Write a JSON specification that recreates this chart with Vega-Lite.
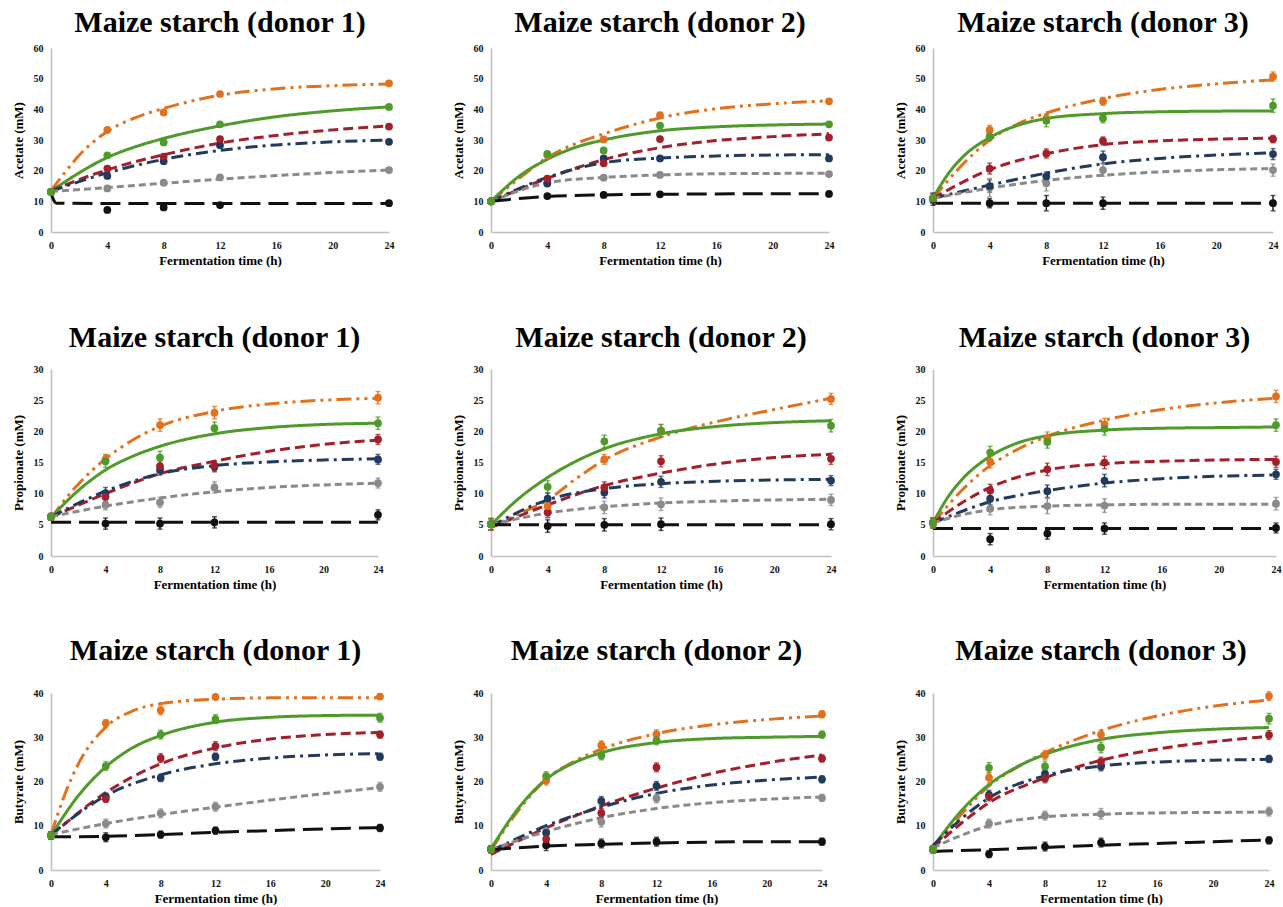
{
"$schema": "https://vega.github.io/schema/vega-lite/v6.json",
"background": "white",
"padding": {"left": 12, "top": 8, "right": 2, "bottom": 0},
"config": {
 "view": {"stroke": null},
 "title": {"font": "Liberation Serif", "fontSize": 30, "fontWeight": "bold", "color": "#000000", "anchor": "middle", "frame": "group", "baseline": "alphabetic"},
 "axis": {"labelFont": "Liberation Serif", "labelFontSize": 10, "labelFontWeight": "bold", "labelColor": "#111111", "titleFont": "Liberation Serif", "titleFontSize": 13, "titleFontWeight": "bold", "titleColor": "#000000", "domainColor": "#C0C0C0", "domainWidth": 1.6, "ticks": false, "grid": false, "labelPadding": 8},
 "axisX": {"titlePadding": 4, "labelFlush": false},
 "axisY": {"titlePadding": 8},
 "line": {"strokeWidth": 3}
},
"datasets": {
"curves": [
{"p":"A1","s":"s1","t":0,"v":13.5},{"p":"A1","s":"s1","t":1,"v":19.5},{"p":"A1","s":"s1","t":2,"v":25},{"p":"A1","s":"s1","t":4,"v":32.8},{"p":"A1","s":"s1","t":6,"v":37.3},{"p":"A1","s":"s1","t":8,"v":40.3},{"p":"A1","s":"s1","t":12,"v":44.6},{"p":"A1","s":"s1","t":16,"v":46.7},{"p":"A1","s":"s1","t":20,"v":47.7},{"p":"A1","s":"s1","t":24,"v":48.3},
{"p":"A1","s":"s2","t":0,"v":13.3},{"p":"A1","s":"s2","t":2,"v":19.3},{"p":"A1","s":"s2","t":4,"v":24.3},{"p":"A1","s":"s2","t":6,"v":27.8},{"p":"A1","s":"s2","t":8,"v":30.5},{"p":"A1","s":"s2","t":12,"v":34.6},{"p":"A1","s":"s2","t":16,"v":37.6},{"p":"A1","s":"s2","t":20,"v":39.5},{"p":"A1","s":"s2","t":24,"v":40.8},
{"p":"A1","s":"s3","t":0,"v":13.5},{"p":"A1","s":"s3","t":4,"v":20.3},{"p":"A1","s":"s3","t":8,"v":25.2},{"p":"A1","s":"s3","t":12,"v":29},{"p":"A1","s":"s3","t":16,"v":31.5},{"p":"A1","s":"s3","t":20,"v":33.3},{"p":"A1","s":"s3","t":24,"v":34.6},
{"p":"A1","s":"s4","t":0,"v":13.3},{"p":"A1","s":"s4","t":4,"v":19.3},{"p":"A1","s":"s4","t":8,"v":23.7},{"p":"A1","s":"s4","t":12,"v":26.6},{"p":"A1","s":"s4","t":16,"v":28.4},{"p":"A1","s":"s4","t":20,"v":29.4},{"p":"A1","s":"s4","t":24,"v":30},
{"p":"A1","s":"s5","t":0,"v":13.2},{"p":"A1","s":"s5","t":4,"v":14.5},{"p":"A1","s":"s5","t":8,"v":15.9},{"p":"A1","s":"s5","t":12,"v":17.2},{"p":"A1","s":"s5","t":16,"v":18.4},{"p":"A1","s":"s5","t":20,"v":19.4},{"p":"A1","s":"s5","t":24,"v":20.2},
{"p":"A1","s":"s6","t":0,"v":12.8},{"p":"A1","s":"s6","t":0.15,"v":10.8},{"p":"A1","s":"s6","t":0.4,"v":9.4},{"p":"A1","s":"s6","t":4,"v":9.3},{"p":"A1","s":"s6","t":12,"v":9.3},{"p":"A1","s":"s6","t":24,"v":9.3},
{"p":"A2","s":"s1","t":0,"v":10},{"p":"A2","s":"s1","t":2,"v":17.5},{"p":"A2","s":"s1","t":4,"v":24.3},{"p":"A2","s":"s1","t":6,"v":28.8},{"p":"A2","s":"s1","t":8,"v":32},{"p":"A2","s":"s1","t":12,"v":37.2},{"p":"A2","s":"s1","t":16,"v":40.2},{"p":"A2","s":"s1","t":20,"v":41.8},{"p":"A2","s":"s1","t":24,"v":42.8},
{"p":"A2","s":"s2","t":0,"v":10},{"p":"A2","s":"s2","t":2,"v":18.2},{"p":"A2","s":"s2","t":4,"v":23.7},{"p":"A2","s":"s2","t":6,"v":27.6},{"p":"A2","s":"s2","t":8,"v":30},{"p":"A2","s":"s2","t":12,"v":33},{"p":"A2","s":"s2","t":16,"v":34.3},{"p":"A2","s":"s2","t":20,"v":34.9},{"p":"A2","s":"s2","t":24,"v":35.2},
{"p":"A2","s":"s3","t":0,"v":10},{"p":"A2","s":"s3","t":4,"v":17.5},{"p":"A2","s":"s3","t":8,"v":23.6},{"p":"A2","s":"s3","t":12,"v":27.5},{"p":"A2","s":"s3","t":16,"v":29.8},{"p":"A2","s":"s3","t":20,"v":31.1},{"p":"A2","s":"s3","t":24,"v":32},
{"p":"A2","s":"s4","t":0,"v":10},{"p":"A2","s":"s4","t":4,"v":17.8},{"p":"A2","s":"s4","t":8,"v":22.6},{"p":"A2","s":"s4","t":12,"v":24.1},{"p":"A2","s":"s4","t":16,"v":24.8},{"p":"A2","s":"s4","t":20,"v":25.1},{"p":"A2","s":"s4","t":24,"v":25.2},
{"p":"A2","s":"s5","t":0,"v":10},{"p":"A2","s":"s5","t":4,"v":16},{"p":"A2","s":"s5","t":8,"v":17.8},{"p":"A2","s":"s5","t":12,"v":18.6},{"p":"A2","s":"s5","t":16,"v":19},{"p":"A2","s":"s5","t":20,"v":19.1},{"p":"A2","s":"s5","t":24,"v":19.2},
{"p":"A2","s":"s6","t":0,"v":10},{"p":"A2","s":"s6","t":4,"v":11.6},{"p":"A2","s":"s6","t":8,"v":12.1},{"p":"A2","s":"s6","t":12,"v":12.3},{"p":"A2","s":"s6","t":16,"v":12.4},{"p":"A2","s":"s6","t":20,"v":12.5},{"p":"A2","s":"s6","t":24,"v":12.5},
{"p":"A3","s":"s1","t":0,"v":11},{"p":"A3","s":"s1","t":1,"v":16.5},{"p":"A3","s":"s1","t":2,"v":21.6},{"p":"A3","s":"s1","t":4,"v":30},{"p":"A3","s":"s1","t":6,"v":35.3},{"p":"A3","s":"s1","t":8,"v":38.8},{"p":"A3","s":"s1","t":12,"v":43.5},{"p":"A3","s":"s1","t":16,"v":46.5},{"p":"A3","s":"s1","t":20,"v":48.3},{"p":"A3","s":"s1","t":24,"v":49.6},
{"p":"A3","s":"s2","t":0,"v":11},{"p":"A3","s":"s2","t":1,"v":18.5},{"p":"A3","s":"s2","t":2,"v":24},{"p":"A3","s":"s2","t":4,"v":30.8},{"p":"A3","s":"s2","t":6,"v":34.8},{"p":"A3","s":"s2","t":8,"v":37},{"p":"A3","s":"s2","t":12,"v":38.6},{"p":"A3","s":"s2","t":16,"v":39.2},{"p":"A3","s":"s2","t":20,"v":39.4},{"p":"A3","s":"s2","t":24,"v":39.5},
{"p":"A3","s":"s3","t":0,"v":11},{"p":"A3","s":"s3","t":4,"v":20.3},{"p":"A3","s":"s3","t":8,"v":25.5},{"p":"A3","s":"s3","t":12,"v":28.5},{"p":"A3","s":"s3","t":16,"v":29.7},{"p":"A3","s":"s3","t":20,"v":30.3},{"p":"A3","s":"s3","t":24,"v":30.6},
{"p":"A3","s":"s4","t":0,"v":11},{"p":"A3","s":"s4","t":4,"v":15.3},{"p":"A3","s":"s4","t":8,"v":19.2},{"p":"A3","s":"s4","t":12,"v":22.2},{"p":"A3","s":"s4","t":16,"v":24},{"p":"A3","s":"s4","t":20,"v":25.1},{"p":"A3","s":"s4","t":24,"v":25.8},
{"p":"A3","s":"s5","t":0,"v":11},{"p":"A3","s":"s5","t":4,"v":14.3},{"p":"A3","s":"s5","t":8,"v":16.8},{"p":"A3","s":"s5","t":12,"v":18.5},{"p":"A3","s":"s5","t":16,"v":19.6},{"p":"A3","s":"s5","t":20,"v":20.3},{"p":"A3","s":"s5","t":24,"v":20.7},
{"p":"A3","s":"s6","t":0,"v":9.4},{"p":"A3","s":"s6","t":12,"v":9.4},{"p":"A3","s":"s6","t":24,"v":9.4},
{"p":"P1","s":"s1","t":0,"v":6},{"p":"P1","s":"s1","t":1,"v":9},{"p":"P1","s":"s1","t":2,"v":11.5},{"p":"P1","s":"s1","t":4,"v":15.6},{"p":"P1","s":"s1","t":6,"v":18.6},{"p":"P1","s":"s1","t":8,"v":20.8},{"p":"P1","s":"s1","t":12,"v":23.2},{"p":"P1","s":"s1","t":16,"v":24.4},{"p":"P1","s":"s1","t":20,"v":25},{"p":"P1","s":"s1","t":24,"v":25.3},
{"p":"P1","s":"s2","t":0,"v":6.2},{"p":"P1","s":"s2","t":2,"v":10.5},{"p":"P1","s":"s2","t":4,"v":13.8},{"p":"P1","s":"s2","t":6,"v":16},{"p":"P1","s":"s2","t":8,"v":17.6},{"p":"P1","s":"s2","t":12,"v":19.6},{"p":"P1","s":"s2","t":16,"v":20.6},{"p":"P1","s":"s2","t":20,"v":21.1},{"p":"P1","s":"s2","t":24,"v":21.3},
{"p":"P1","s":"s3","t":0,"v":6.2},{"p":"P1","s":"s3","t":4,"v":10},{"p":"P1","s":"s3","t":8,"v":13.2},{"p":"P1","s":"s3","t":12,"v":15.2},{"p":"P1","s":"s3","t":16,"v":16.8},{"p":"P1","s":"s3","t":20,"v":17.9},{"p":"P1","s":"s3","t":24,"v":18.6},
{"p":"P1","s":"s4","t":0,"v":6.3},{"p":"P1","s":"s4","t":4,"v":10.4},{"p":"P1","s":"s4","t":8,"v":13.2},{"p":"P1","s":"s4","t":12,"v":14.5},{"p":"P1","s":"s4","t":16,"v":15.1},{"p":"P1","s":"s4","t":20,"v":15.4},{"p":"P1","s":"s4","t":24,"v":15.6},
{"p":"P1","s":"s5","t":0,"v":6.3},{"p":"P1","s":"s5","t":4,"v":8},{"p":"P1","s":"s5","t":8,"v":9.3},{"p":"P1","s":"s5","t":12,"v":10.3},{"p":"P1","s":"s5","t":16,"v":11},{"p":"P1","s":"s5","t":20,"v":11.4},{"p":"P1","s":"s5","t":24,"v":11.7},
{"p":"P1","s":"s6","t":0,"v":5.4},{"p":"P1","s":"s6","t":12,"v":5.4},{"p":"P1","s":"s6","t":24,"v":5.4},
{"p":"P2","s":"s1","t":0,"v":4.6},{"p":"P2","s":"s1","t":2,"v":6.8},{"p":"P2","s":"s1","t":4,"v":9},{"p":"P2","s":"s1","t":6,"v":12.4},{"p":"P2","s":"s1","t":8,"v":15.4},{"p":"P2","s":"s1","t":12,"v":19.1},{"p":"P2","s":"s1","t":16,"v":21.6},{"p":"P2","s":"s1","t":20,"v":23.5},{"p":"P2","s":"s1","t":24,"v":25.3},
{"p":"P2","s":"s2","t":0,"v":5},{"p":"P2","s":"s2","t":2,"v":9.3},{"p":"P2","s":"s2","t":4,"v":12.6},{"p":"P2","s":"s2","t":6,"v":15.2},{"p":"P2","s":"s2","t":8,"v":17.2},{"p":"P2","s":"s2","t":12,"v":19.6},{"p":"P2","s":"s2","t":16,"v":20.8},{"p":"P2","s":"s2","t":20,"v":21.4},{"p":"P2","s":"s2","t":24,"v":21.7},
{"p":"P2","s":"s3","t":0,"v":4.6},{"p":"P2","s":"s3","t":4,"v":8.2},{"p":"P2","s":"s3","t":8,"v":11.3},{"p":"P2","s":"s3","t":12,"v":13.3},{"p":"P2","s":"s3","t":16,"v":14.8},{"p":"P2","s":"s3","t":20,"v":15.8},{"p":"P2","s":"s3","t":24,"v":16.3},
{"p":"P2","s":"s4","t":0,"v":4.8},{"p":"P2","s":"s4","t":4,"v":9},{"p":"P2","s":"s4","t":8,"v":10.8},{"p":"P2","s":"s4","t":12,"v":11.6},{"p":"P2","s":"s4","t":16,"v":12},{"p":"P2","s":"s4","t":20,"v":12.2},{"p":"P2","s":"s4","t":24,"v":12.3},
{"p":"P2","s":"s5","t":0,"v":5},{"p":"P2","s":"s5","t":4,"v":6.9},{"p":"P2","s":"s5","t":8,"v":7.9},{"p":"P2","s":"s5","t":12,"v":8.5},{"p":"P2","s":"s5","t":16,"v":8.8},{"p":"P2","s":"s5","t":20,"v":9},{"p":"P2","s":"s5","t":24,"v":9.1},
{"p":"P2","s":"s6","t":0,"v":5},{"p":"P2","s":"s6","t":12,"v":5},{"p":"P2","s":"s6","t":24,"v":5},
{"p":"P3","s":"s1","t":0,"v":5.2},{"p":"P3","s":"s1","t":1,"v":8},{"p":"P3","s":"s1","t":2,"v":10.5},{"p":"P3","s":"s1","t":4,"v":14.5},{"p":"P3","s":"s1","t":6,"v":17.2},{"p":"P3","s":"s1","t":8,"v":19.2},{"p":"P3","s":"s1","t":12,"v":21.8},{"p":"P3","s":"s1","t":16,"v":23.5},{"p":"P3","s":"s1","t":20,"v":24.6},{"p":"P3","s":"s1","t":24,"v":25.3},
{"p":"P3","s":"s2","t":0,"v":5.3},{"p":"P3","s":"s2","t":1,"v":9.3},{"p":"P3","s":"s2","t":2,"v":12.2},{"p":"P3","s":"s2","t":4,"v":16},{"p":"P3","s":"s2","t":6,"v":18.2},{"p":"P3","s":"s2","t":8,"v":19.3},{"p":"P3","s":"s2","t":12,"v":20.2},{"p":"P3","s":"s2","t":16,"v":20.5},{"p":"P3","s":"s2","t":20,"v":20.6},{"p":"P3","s":"s2","t":24,"v":20.7},
{"p":"P3","s":"s3","t":0,"v":5.3},{"p":"P3","s":"s3","t":2,"v":8.5},{"p":"P3","s":"s3","t":4,"v":11},{"p":"P3","s":"s3","t":8,"v":13.8},{"p":"P3","s":"s3","t":12,"v":14.8},{"p":"P3","s":"s3","t":16,"v":15.2},{"p":"P3","s":"s3","t":20,"v":15.4},{"p":"P3","s":"s3","t":24,"v":15.5},
{"p":"P3","s":"s4","t":0,"v":5.3},{"p":"P3","s":"s4","t":4,"v":8.7},{"p":"P3","s":"s4","t":8,"v":10.5},{"p":"P3","s":"s4","t":12,"v":11.7},{"p":"P3","s":"s4","t":16,"v":12.4},{"p":"P3","s":"s4","t":20,"v":12.8},{"p":"P3","s":"s4","t":24,"v":13},
{"p":"P3","s":"s5","t":0,"v":5.3},{"p":"P3","s":"s5","t":2,"v":6.6},{"p":"P3","s":"s5","t":4,"v":7.4},{"p":"P3","s":"s5","t":8,"v":8},{"p":"P3","s":"s5","t":12,"v":8.2},{"p":"P3","s":"s5","t":16,"v":8.3},{"p":"P3","s":"s5","t":20,"v":8.3},{"p":"P3","s":"s5","t":24,"v":8.3},
{"p":"P3","s":"s6","t":0,"v":4.4},{"p":"P3","s":"s6","t":12,"v":4.4},{"p":"P3","s":"s6","t":24,"v":4.4},
{"p":"B1","s":"s1","t":0,"v":8},{"p":"B1","s":"s1","t":1,"v":17},{"p":"B1","s":"s1","t":2,"v":24},{"p":"B1","s":"s1","t":4,"v":32.3},{"p":"B1","s":"s1","t":6,"v":36},{"p":"B1","s":"s1","t":8,"v":37.6},{"p":"B1","s":"s1","t":12,"v":38.6},{"p":"B1","s":"s1","t":16,"v":38.9},{"p":"B1","s":"s1","t":20,"v":38.9},{"p":"B1","s":"s1","t":24,"v":38.9},
{"p":"B1","s":"s2","t":0,"v":7.8},{"p":"B1","s":"s2","t":2,"v":16.8},{"p":"B1","s":"s2","t":4,"v":23.3},{"p":"B1","s":"s2","t":6,"v":27.7},{"p":"B1","s":"s2","t":8,"v":30.4},{"p":"B1","s":"s2","t":12,"v":33.4},{"p":"B1","s":"s2","t":16,"v":34.5},{"p":"B1","s":"s2","t":20,"v":34.9},{"p":"B1","s":"s2","t":24,"v":35},
{"p":"B1","s":"s3","t":0,"v":7.8},{"p":"B1","s":"s3","t":4,"v":17.5},{"p":"B1","s":"s3","t":8,"v":24},{"p":"B1","s":"s3","t":12,"v":27.6},{"p":"B1","s":"s3","t":16,"v":29.6},{"p":"B1","s":"s3","t":20,"v":30.6},{"p":"B1","s":"s3","t":24,"v":31.1},
{"p":"B1","s":"s4","t":0,"v":8},{"p":"B1","s":"s4","t":4,"v":16.8},{"p":"B1","s":"s4","t":8,"v":21.5},{"p":"B1","s":"s4","t":12,"v":24},{"p":"B1","s":"s4","t":16,"v":25.3},{"p":"B1","s":"s4","t":20,"v":26},{"p":"B1","s":"s4","t":24,"v":26.3},
{"p":"B1","s":"s5","t":0,"v":8},{"p":"B1","s":"s5","t":4,"v":10.5},{"p":"B1","s":"s5","t":8,"v":12.5},{"p":"B1","s":"s5","t":12,"v":14.2},{"p":"B1","s":"s5","t":16,"v":15.8},{"p":"B1","s":"s5","t":20,"v":17.3},{"p":"B1","s":"s5","t":24,"v":18.6},
{"p":"B1","s":"s6","t":0,"v":7.5},{"p":"B1","s":"s6","t":4,"v":7.6},{"p":"B1","s":"s6","t":8,"v":8},{"p":"B1","s":"s6","t":12,"v":8.5},{"p":"B1","s":"s6","t":16,"v":8.9},{"p":"B1","s":"s6","t":20,"v":9.3},{"p":"B1","s":"s6","t":24,"v":9.6},
{"p":"B2","s":"s1","t":0,"v":4.5},{"p":"B2","s":"s1","t":2,"v":13.5},{"p":"B2","s":"s1","t":4,"v":20.5},{"p":"B2","s":"s1","t":6,"v":24.5},{"p":"B2","s":"s1","t":8,"v":27.3},{"p":"B2","s":"s1","t":12,"v":30.8},{"p":"B2","s":"s1","t":16,"v":32.8},{"p":"B2","s":"s1","t":20,"v":34},{"p":"B2","s":"s1","t":24,"v":34.8},
{"p":"B2","s":"s2","t":0,"v":4.8},{"p":"B2","s":"s2","t":2,"v":14},{"p":"B2","s":"s2","t":4,"v":20.5},{"p":"B2","s":"s2","t":6,"v":24.2},{"p":"B2","s":"s2","t":8,"v":26.5},{"p":"B2","s":"s2","t":12,"v":28.8},{"p":"B2","s":"s2","t":16,"v":29.7},{"p":"B2","s":"s2","t":20,"v":30},{"p":"B2","s":"s2","t":24,"v":30.2},
{"p":"B2","s":"s3","t":0,"v":3.5},{"p":"B2","s":"s3","t":4,"v":9.5},{"p":"B2","s":"s3","t":8,"v":14.5},{"p":"B2","s":"s3","t":12,"v":18.5},{"p":"B2","s":"s3","t":16,"v":21.8},{"p":"B2","s":"s3","t":20,"v":24.2},{"p":"B2","s":"s3","t":24,"v":26},
{"p":"B2","s":"s4","t":0,"v":4.3},{"p":"B2","s":"s4","t":4,"v":10},{"p":"B2","s":"s4","t":8,"v":14.2},{"p":"B2","s":"s4","t":12,"v":17.3},{"p":"B2","s":"s4","t":16,"v":19.2},{"p":"B2","s":"s4","t":20,"v":20.3},{"p":"B2","s":"s4","t":24,"v":21},
{"p":"B2","s":"s5","t":0,"v":4.6},{"p":"B2","s":"s5","t":4,"v":8.7},{"p":"B2","s":"s5","t":8,"v":11.8},{"p":"B2","s":"s5","t":12,"v":13.9},{"p":"B2","s":"s5","t":16,"v":15.2},{"p":"B2","s":"s5","t":20,"v":16},{"p":"B2","s":"s5","t":24,"v":16.5},
{"p":"B2","s":"s6","t":0,"v":4.6},{"p":"B2","s":"s6","t":4,"v":5.4},{"p":"B2","s":"s6","t":8,"v":5.8},{"p":"B2","s":"s6","t":12,"v":6.1},{"p":"B2","s":"s6","t":16,"v":6.3},{"p":"B2","s":"s6","t":20,"v":6.4},{"p":"B2","s":"s6","t":24,"v":6.4},
{"p":"B3","s":"s1","t":0,"v":5},{"p":"B3","s":"s1","t":2,"v":12.5},{"p":"B3","s":"s1","t":4,"v":19},{"p":"B3","s":"s1","t":6,"v":23.2},{"p":"B3","s":"s1","t":8,"v":26.5},{"p":"B3","s":"s1","t":12,"v":31.5},{"p":"B3","s":"s1","t":16,"v":34.8},{"p":"B3","s":"s1","t":20,"v":37},{"p":"B3","s":"s1","t":24,"v":38.4},
{"p":"B3","s":"s2","t":0,"v":5.2},{"p":"B3","s":"s2","t":2,"v":13.3},{"p":"B3","s":"s2","t":4,"v":19.3},{"p":"B3","s":"s2","t":6,"v":23.3},{"p":"B3","s":"s2","t":8,"v":26.1},{"p":"B3","s":"s2","t":12,"v":29.5},{"p":"B3","s":"s2","t":16,"v":31},{"p":"B3","s":"s2","t":20,"v":31.8},{"p":"B3","s":"s2","t":24,"v":32.2},
{"p":"B3","s":"s3","t":0,"v":5},{"p":"B3","s":"s3","t":2,"v":10.5},{"p":"B3","s":"s3","t":4,"v":15.2},{"p":"B3","s":"s3","t":8,"v":20.8},{"p":"B3","s":"s3","t":12,"v":24.8},{"p":"B3","s":"s3","t":16,"v":27.3},{"p":"B3","s":"s3","t":20,"v":29},{"p":"B3","s":"s3","t":24,"v":30.2},
{"p":"B3","s":"s4","t":0,"v":5.5},{"p":"B3","s":"s4","t":2,"v":11.5},{"p":"B3","s":"s4","t":4,"v":16.3},{"p":"B3","s":"s4","t":8,"v":21.3},{"p":"B3","s":"s4","t":12,"v":23.5},{"p":"B3","s":"s4","t":16,"v":24.4},{"p":"B3","s":"s4","t":20,"v":24.8},{"p":"B3","s":"s4","t":24,"v":25},
{"p":"B3","s":"s5","t":0,"v":5},{"p":"B3","s":"s5","t":2,"v":7.8},{"p":"B3","s":"s5","t":4,"v":10},{"p":"B3","s":"s5","t":8,"v":12},{"p":"B3","s":"s5","t":12,"v":12.6},{"p":"B3","s":"s5","t":16,"v":12.9},{"p":"B3","s":"s5","t":20,"v":13},{"p":"B3","s":"s5","t":24,"v":13.1},
{"p":"B3","s":"s6","t":0,"v":4.2},{"p":"B3","s":"s6","t":4,"v":4.6},{"p":"B3","s":"s6","t":8,"v":5.1},{"p":"B3","s":"s6","t":12,"v":5.6},{"p":"B3","s":"s6","t":16,"v":6},{"p":"B3","s":"s6","t":20,"v":6.4},{"p":"B3","s":"s6","t":24,"v":6.8}
],
"points": [
{"p":"A1","s":"s6","t":0,"v":13.1,"e":0.6},{"p":"A1","s":"s6","t":4,"v":7.2,"e":0.7},{"p":"A1","s":"s6","t":8,"v":8,"e":0.7},{"p":"A1","s":"s6","t":12,"v":8.8,"e":0.7},{"p":"A1","s":"s6","t":24,"v":9.4,"e":0.7},
{"p":"A1","s":"s5","t":0,"v":13.1,"e":0.6},{"p":"A1","s":"s5","t":4,"v":14.2,"e":0.7},{"p":"A1","s":"s5","t":8,"v":16.1,"e":0.7},{"p":"A1","s":"s5","t":12,"v":17.8,"e":0.7},{"p":"A1","s":"s5","t":24,"v":20.2,"e":0.7},
{"p":"A1","s":"s4","t":0,"v":13.1,"e":0.6},{"p":"A1","s":"s4","t":4,"v":18.3,"e":0.7},{"p":"A1","s":"s4","t":8,"v":23.1,"e":0.7},{"p":"A1","s":"s4","t":12,"v":28.3,"e":0.7},{"p":"A1","s":"s4","t":24,"v":29.4,"e":0.7},
{"p":"A1","s":"s3","t":0,"v":13.1,"e":0.6},{"p":"A1","s":"s3","t":4,"v":20.7,"e":0.7},{"p":"A1","s":"s3","t":8,"v":24.6,"e":0.7},{"p":"A1","s":"s3","t":12,"v":30.3,"e":0.7},{"p":"A1","s":"s3","t":24,"v":34.4,"e":0.7},
{"p":"A1","s":"s1","t":0,"v":13.1,"e":0.6},{"p":"A1","s":"s1","t":4,"v":33.3,"e":0.7},{"p":"A1","s":"s1","t":8,"v":39,"e":0.7},{"p":"A1","s":"s1","t":12,"v":45,"e":0.7},{"p":"A1","s":"s1","t":24,"v":48.5,"e":0.7},
{"p":"A1","s":"s2","t":0,"v":13.1,"e":0.6},{"p":"A1","s":"s2","t":4,"v":25,"e":0.7},{"p":"A1","s":"s2","t":8,"v":29.2,"e":0.7},{"p":"A1","s":"s2","t":12,"v":35.1,"e":0.7},{"p":"A1","s":"s2","t":24,"v":40.8,"e":0.7},
{"p":"A2","s":"s6","t":0,"v":10,"e":0.6},{"p":"A2","s":"s6","t":4,"v":11.7,"e":0.6},{"p":"A2","s":"s6","t":8,"v":12.1,"e":0.6},{"p":"A2","s":"s6","t":12,"v":12.3,"e":0.6},{"p":"A2","s":"s6","t":24,"v":12.4,"e":0.6},
{"p":"A2","s":"s5","t":0,"v":10,"e":0.6},{"p":"A2","s":"s5","t":4,"v":16,"e":0.6},{"p":"A2","s":"s5","t":8,"v":17.7,"e":0.6},{"p":"A2","s":"s5","t":12,"v":18.6,"e":0.6},{"p":"A2","s":"s5","t":24,"v":18.9,"e":0.6},
{"p":"A2","s":"s4","t":0,"v":10,"e":0.6},{"p":"A2","s":"s4","t":4,"v":15.8,"e":0.6},{"p":"A2","s":"s4","t":8,"v":24,"e":0.6},{"p":"A2","s":"s4","t":12,"v":24,"e":0.6},{"p":"A2","s":"s4","t":24,"v":24,"e":0.6},
{"p":"A2","s":"s3","t":0,"v":10,"e":0.6},{"p":"A2","s":"s3","t":4,"v":17.4,"e":0.6},{"p":"A2","s":"s3","t":8,"v":22.4,"e":0.6},{"p":"A2","s":"s3","t":12,"v":30.3,"e":0.6},{"p":"A2","s":"s3","t":24,"v":30.8,"e":0.6},
{"p":"A2","s":"s1","t":0,"v":10,"e":0.6},{"p":"A2","s":"s1","t":4,"v":25,"e":0.6},{"p":"A2","s":"s1","t":8,"v":30.2,"e":0.6},{"p":"A2","s":"s1","t":12,"v":38.1,"e":0.6},{"p":"A2","s":"s1","t":24,"v":42.6,"e":0.6},
{"p":"A2","s":"s2","t":0,"v":10,"e":0.6},{"p":"A2","s":"s2","t":4,"v":25.5,"e":0.6},{"p":"A2","s":"s2","t":8,"v":26.6,"e":0.6},{"p":"A2","s":"s2","t":12,"v":34.7,"e":0.6},{"p":"A2","s":"s2","t":24,"v":35.1,"e":0.6},
{"p":"A3","s":"s6","t":0,"v":10.7,"e":2},{"p":"A3","s":"s6","t":4,"v":9.4,"e":1.5},{"p":"A3","s":"s6","t":8,"v":9.4,"e":2.5},{"p":"A3","s":"s6","t":12,"v":9.4,"e":2},{"p":"A3","s":"s6","t":24,"v":9.4,"e":2.5},
{"p":"A3","s":"s5","t":0,"v":11,"e":1.5},{"p":"A3","s":"s5","t":4,"v":14.5,"e":3},{"p":"A3","s":"s5","t":8,"v":15.9,"e":2.5},{"p":"A3","s":"s5","t":12,"v":20.2,"e":2},{"p":"A3","s":"s5","t":24,"v":20.2,"e":2},
{"p":"A3","s":"s4","t":0,"v":11,"e":1.5},{"p":"A3","s":"s4","t":4,"v":15,"e":2},{"p":"A3","s":"s4","t":8,"v":18.1,"e":1.5},{"p":"A3","s":"s4","t":12,"v":24.4,"e":2},{"p":"A3","s":"s4","t":24,"v":25.4,"e":1.8},
{"p":"A3","s":"s3","t":0,"v":11,"e":1.5},{"p":"A3","s":"s3","t":4,"v":20.7,"e":1.8},{"p":"A3","s":"s3","t":8,"v":25.6,"e":1.5},{"p":"A3","s":"s3","t":12,"v":29.7,"e":1.3},{"p":"A3","s":"s3","t":24,"v":30.3,"e":1.2},
{"p":"A3","s":"s1","t":0,"v":11,"e":1.5},{"p":"A3","s":"s1","t":4,"v":33.3,"e":1.5},{"p":"A3","s":"s1","t":8,"v":37,"e":1.5},{"p":"A3","s":"s1","t":12,"v":42.6,"e":1.3},{"p":"A3","s":"s1","t":24,"v":50.7,"e":1.5},
{"p":"A3","s":"s2","t":0,"v":11,"e":1.5},{"p":"A3","s":"s2","t":4,"v":31.2,"e":1.5},{"p":"A3","s":"s2","t":8,"v":36.3,"e":2},{"p":"A3","s":"s2","t":12,"v":37.1,"e":1.5},{"p":"A3","s":"s2","t":24,"v":41.2,"e":2.2},
{"p":"P1","s":"s6","t":0,"v":6.3,"e":0.5},{"p":"P1","s":"s6","t":4,"v":5.2,"e":0.9},{"p":"P1","s":"s6","t":8,"v":5.2,"e":0.9},{"p":"P1","s":"s6","t":12,"v":5.4,"e":0.9},{"p":"P1","s":"s6","t":24,"v":6.6,"e":0.8},
{"p":"P1","s":"s5","t":0,"v":6.3,"e":0.5},{"p":"P1","s":"s5","t":4,"v":8.2,"e":0.8},{"p":"P1","s":"s5","t":8,"v":8.6,"e":0.8},{"p":"P1","s":"s5","t":12,"v":11,"e":0.9},{"p":"P1","s":"s5","t":24,"v":11.7,"e":0.8},
{"p":"P1","s":"s4","t":0,"v":6.3,"e":0.5},{"p":"P1","s":"s4","t":4,"v":10.1,"e":0.9},{"p":"P1","s":"s4","t":8,"v":13.8,"e":0.8},{"p":"P1","s":"s4","t":12,"v":14.3,"e":0.8},{"p":"P1","s":"s4","t":24,"v":15.5,"e":0.8},
{"p":"P1","s":"s3","t":0,"v":6.3,"e":0.5},{"p":"P1","s":"s3","t":4,"v":9.5,"e":0.8},{"p":"P1","s":"s3","t":8,"v":14.4,"e":0.8},{"p":"P1","s":"s3","t":12,"v":14.5,"e":0.8},{"p":"P1","s":"s3","t":24,"v":18.7,"e":0.8},
{"p":"P1","s":"s1","t":0,"v":6.3,"e":0.5},{"p":"P1","s":"s1","t":4,"v":15.5,"e":0.8},{"p":"P1","s":"s1","t":8,"v":21,"e":1},{"p":"P1","s":"s1","t":12,"v":23,"e":1},{"p":"P1","s":"s1","t":24,"v":25.4,"e":1},
{"p":"P1","s":"s2","t":0,"v":6.3,"e":0.5},{"p":"P1","s":"s2","t":4,"v":15.2,"e":1},{"p":"P1","s":"s2","t":8,"v":15.8,"e":1},{"p":"P1","s":"s2","t":12,"v":20.5,"e":1},{"p":"P1","s":"s2","t":24,"v":21.3,"e":1},
{"p":"P2","s":"s6","t":0,"v":5.1,"e":0.9},{"p":"P2","s":"s6","t":4,"v":4.8,"e":1},{"p":"P2","s":"s6","t":8,"v":5,"e":1},{"p":"P2","s":"s6","t":12,"v":5.1,"e":1},{"p":"P2","s":"s6","t":24,"v":5.1,"e":0.9},
{"p":"P2","s":"s5","t":0,"v":5.1,"e":0.9},{"p":"P2","s":"s5","t":4,"v":7,"e":0.9},{"p":"P2","s":"s5","t":8,"v":7.8,"e":1},{"p":"P2","s":"s5","t":12,"v":8.3,"e":1},{"p":"P2","s":"s5","t":24,"v":9,"e":0.9},
{"p":"P2","s":"s4","t":0,"v":5.1,"e":0.9},{"p":"P2","s":"s4","t":4,"v":9.2,"e":0.9},{"p":"P2","s":"s4","t":8,"v":10.2,"e":0.9},{"p":"P2","s":"s4","t":12,"v":11.9,"e":0.9},{"p":"P2","s":"s4","t":24,"v":12.1,"e":0.8},
{"p":"P2","s":"s3","t":0,"v":5.1,"e":0.9},{"p":"P2","s":"s3","t":4,"v":7,"e":0.8},{"p":"P2","s":"s3","t":8,"v":11,"e":0.9},{"p":"P2","s":"s3","t":12,"v":15.2,"e":0.9},{"p":"P2","s":"s3","t":24,"v":15.6,"e":0.9},
{"p":"P2","s":"s1","t":0,"v":5.1,"e":0.9},{"p":"P2","s":"s1","t":4,"v":8,"e":0.8},{"p":"P2","s":"s1","t":8,"v":15.5,"e":0.8},{"p":"P2","s":"s1","t":12,"v":20.1,"e":1},{"p":"P2","s":"s1","t":24,"v":25.2,"e":0.9},
{"p":"P2","s":"s2","t":0,"v":5.1,"e":0.9},{"p":"P2","s":"s2","t":4,"v":11.1,"e":1},{"p":"P2","s":"s2","t":8,"v":18.4,"e":1},{"p":"P2","s":"s2","t":12,"v":20.1,"e":1},{"p":"P2","s":"s2","t":24,"v":20.9,"e":1},
{"p":"P3","s":"s6","t":0,"v":5.3,"e":0.8},{"p":"P3","s":"s6","t":4,"v":2.7,"e":0.9},{"p":"P3","s":"s6","t":8,"v":3.6,"e":0.9},{"p":"P3","s":"s6","t":12,"v":4.4,"e":0.9},{"p":"P3","s":"s6","t":24,"v":4.5,"e":0.8},
{"p":"P3","s":"s5","t":0,"v":5.3,"e":0.8},{"p":"P3","s":"s5","t":4,"v":7.6,"e":1},{"p":"P3","s":"s5","t":8,"v":8,"e":1.2},{"p":"P3","s":"s5","t":12,"v":8.1,"e":1.1},{"p":"P3","s":"s5","t":24,"v":8.4,"e":1},
{"p":"P3","s":"s4","t":0,"v":5.3,"e":0.8},{"p":"P3","s":"s4","t":4,"v":9.2,"e":1},{"p":"P3","s":"s4","t":8,"v":10.4,"e":1},{"p":"P3","s":"s4","t":12,"v":12.1,"e":1},{"p":"P3","s":"s4","t":24,"v":13.1,"e":0.8},
{"p":"P3","s":"s3","t":0,"v":5.3,"e":0.8},{"p":"P3","s":"s3","t":4,"v":10.5,"e":1},{"p":"P3","s":"s3","t":8,"v":13.9,"e":1},{"p":"P3","s":"s3","t":12,"v":15,"e":1},{"p":"P3","s":"s3","t":24,"v":15.1,"e":0.9},
{"p":"P3","s":"s1","t":0,"v":5.3,"e":0.8},{"p":"P3","s":"s1","t":4,"v":15.1,"e":1},{"p":"P3","s":"s1","t":8,"v":18.9,"e":1},{"p":"P3","s":"s1","t":12,"v":21.1,"e":1},{"p":"P3","s":"s1","t":24,"v":25.6,"e":1},
{"p":"P3","s":"s2","t":0,"v":5.3,"e":0.8},{"p":"P3","s":"s2","t":4,"v":16.6,"e":1},{"p":"P3","s":"s2","t":8,"v":18.3,"e":1},{"p":"P3","s":"s2","t":12,"v":20.4,"e":1},{"p":"P3","s":"s2","t":24,"v":21,"e":1},
{"p":"B1","s":"s6","t":0,"v":7.8,"e":0.8},{"p":"B1","s":"s6","t":4,"v":7.4,"e":1},{"p":"B1","s":"s6","t":8,"v":8,"e":0.8},{"p":"B1","s":"s6","t":12,"v":8.9,"e":0.8},{"p":"B1","s":"s6","t":24,"v":9.5,"e":0.8},
{"p":"B1","s":"s5","t":0,"v":7.8,"e":0.8},{"p":"B1","s":"s5","t":4,"v":10.5,"e":1},{"p":"B1","s":"s5","t":8,"v":12.8,"e":1},{"p":"B1","s":"s5","t":12,"v":14.3,"e":1},{"p":"B1","s":"s5","t":24,"v":18.8,"e":1},
{"p":"B1","s":"s4","t":0,"v":7.8,"e":0.8},{"p":"B1","s":"s4","t":4,"v":16.6,"e":0.8},{"p":"B1","s":"s4","t":8,"v":20.8,"e":0.8},{"p":"B1","s":"s4","t":12,"v":25.6,"e":0.8},{"p":"B1","s":"s4","t":24,"v":25.6,"e":0.8},
{"p":"B1","s":"s3","t":0,"v":7.8,"e":0.8},{"p":"B1","s":"s3","t":4,"v":16.1,"e":0.8},{"p":"B1","s":"s3","t":8,"v":25.3,"e":1},{"p":"B1","s":"s3","t":12,"v":28,"e":1},{"p":"B1","s":"s3","t":24,"v":30.6,"e":0.8},
{"p":"B1","s":"s1","t":0,"v":7.8,"e":0.8},{"p":"B1","s":"s1","t":4,"v":33.2,"e":0.8},{"p":"B1","s":"s1","t":8,"v":36.1,"e":1},{"p":"B1","s":"s1","t":12,"v":39.1,"e":0.5},{"p":"B1","s":"s1","t":24,"v":39.2,"e":0.5},
{"p":"B1","s":"s2","t":0,"v":7.8,"e":0.8},{"p":"B1","s":"s2","t":4,"v":23.5,"e":1},{"p":"B1","s":"s2","t":8,"v":30.6,"e":1},{"p":"B1","s":"s2","t":12,"v":34.1,"e":1},{"p":"B1","s":"s2","t":24,"v":34.4,"e":1},
{"p":"B2","s":"s6","t":0,"v":4.7,"e":0.8},{"p":"B2","s":"s6","t":4,"v":5.6,"e":1.2},{"p":"B2","s":"s6","t":8,"v":6,"e":1},{"p":"B2","s":"s6","t":12,"v":6.4,"e":1},{"p":"B2","s":"s6","t":24,"v":6.4,"e":0.8},
{"p":"B2","s":"s5","t":0,"v":4.7,"e":0.8},{"p":"B2","s":"s5","t":4,"v":8.6,"e":1},{"p":"B2","s":"s5","t":8,"v":10.9,"e":1.2},{"p":"B2","s":"s5","t":12,"v":16.2,"e":1},{"p":"B2","s":"s5","t":24,"v":16.3,"e":0.8},
{"p":"B2","s":"s4","t":0,"v":4.7,"e":0.8},{"p":"B2","s":"s4","t":4,"v":8.4,"e":1},{"p":"B2","s":"s4","t":8,"v":15.6,"e":1},{"p":"B2","s":"s4","t":12,"v":19,"e":1},{"p":"B2","s":"s4","t":24,"v":20.5,"e":0.8},
{"p":"B2","s":"s3","t":0,"v":4.7,"e":0.8},{"p":"B2","s":"s3","t":4,"v":7,"e":0.8},{"p":"B2","s":"s3","t":8,"v":12.9,"e":1},{"p":"B2","s":"s3","t":12,"v":23.2,"e":1},{"p":"B2","s":"s3","t":24,"v":25.2,"e":0.8},
{"p":"B2","s":"s1","t":0,"v":4.7,"e":0.8},{"p":"B2","s":"s1","t":4,"v":20.2,"e":1},{"p":"B2","s":"s1","t":8,"v":28.2,"e":1},{"p":"B2","s":"s1","t":12,"v":30.7,"e":1},{"p":"B2","s":"s1","t":24,"v":35.2,"e":0.8},
{"p":"B2","s":"s2","t":0,"v":4.7,"e":0.8},{"p":"B2","s":"s2","t":4,"v":21.2,"e":1},{"p":"B2","s":"s2","t":8,"v":25.9,"e":1},{"p":"B2","s":"s2","t":12,"v":29.3,"e":1},{"p":"B2","s":"s2","t":24,"v":30.6,"e":0.8},
{"p":"B3","s":"s6","t":0,"v":4.7,"e":0.8},{"p":"B3","s":"s6","t":4,"v":3.6,"e":0.8},{"p":"B3","s":"s6","t":8,"v":5.3,"e":1},{"p":"B3","s":"s6","t":12,"v":6.2,"e":1},{"p":"B3","s":"s6","t":24,"v":6.7,"e":0.8},
{"p":"B3","s":"s5","t":0,"v":4.7,"e":0.8},{"p":"B3","s":"s5","t":4,"v":10.5,"e":1},{"p":"B3","s":"s5","t":8,"v":12.3,"e":1},{"p":"B3","s":"s5","t":12,"v":12.7,"e":1.2},{"p":"B3","s":"s5","t":24,"v":13.2,"e":1},
{"p":"B3","s":"s4","t":0,"v":4.7,"e":0.8},{"p":"B3","s":"s4","t":4,"v":17,"e":1},{"p":"B3","s":"s4","t":8,"v":21.8,"e":1},{"p":"B3","s":"s4","t":12,"v":23.4,"e":1},{"p":"B3","s":"s4","t":24,"v":25.1,"e":0.8},
{"p":"B3","s":"s3","t":0,"v":4.7,"e":0.8},{"p":"B3","s":"s3","t":4,"v":16.6,"e":1},{"p":"B3","s":"s3","t":8,"v":20.7,"e":1},{"p":"B3","s":"s3","t":12,"v":24.5,"e":1},{"p":"B3","s":"s3","t":24,"v":30.5,"e":1},
{"p":"B3","s":"s1","t":0,"v":4.7,"e":0.8},{"p":"B3","s":"s1","t":4,"v":20.9,"e":1.2},{"p":"B3","s":"s1","t":8,"v":26,"e":1},{"p":"B3","s":"s1","t":12,"v":30.6,"e":1},{"p":"B3","s":"s1","t":24,"v":39.3,"e":1},
{"p":"B3","s":"s2","t":0,"v":4.7,"e":0.8},{"p":"B3","s":"s2","t":4,"v":23.1,"e":1.2},{"p":"B3","s":"s2","t":8,"v":23.4,"e":1.2},{"p":"B3","s":"s2","t":12,"v":27.7,"e":1.2},{"p":"B3","s":"s2","t":24,"v":34.2,"e":1.2}
]
},
"columns": 3,
"align": "each",
"bounds": "flush",
"spacing": {"row": 137, "column": 102},
"concat": [
{"width": 338, "height": 184, "title": {"text": "Maize starch (donor 1)", "offset": 5},
 "encoding": {"x": {"field": "t", "type": "quantitative", "scale": {"domain": [0, 24]}, "axis": {"values": [0,4,8,12,16,20,24], "title": "Fermentation time (h)"}},
  "y": {"field": "v", "type": "quantitative", "scale": {"domain": [0, 60]}, "axis": {"values": [0,10,20,30,40,50,60], "title": "Acetate (mM)"}},
  "color": {"field": "s", "type": "nominal", "legend": null, "scale": {"domain": ["s1","s2","s3","s4","s5","s6"], "range": ["#E2711D","#4E9A2A","#A3202A","#213A5E","#8A8A8A","#111111"]}}},
 "layer": [
  {"data": {"name": "curves"}, "transform": [{"filter": "datum.p == 'A1'"}], "mark": {"type": "line", "interpolate": "monotone"}, "encoding": {"strokeDash": {"field": "s", "type": "nominal", "legend": null, "scale": {"domain": ["s1","s2","s3","s4","s5","s6"], "range": [[15,5,3,5,3,5],[1,0],[10,5],[12,5,3,5],[7,4],[20,8]]}}}},
  {"data": {"name": "points"}, "transform": [{"filter": "datum.p == 'A1'"}], "mark": {"type": "errorbar", "ticks": true, "size": 5, "thickness": 1.4}, "encoding": {"yError": {"field": "e"}}},
  {"data": {"name": "points"}, "transform": [{"filter": "datum.p == 'A1'"}], "mark": {"type": "circle", "size": 60, "opacity": 1}}
 ]},
{"width": 338, "height": 184, "title": {"text": "Maize starch (donor 2)", "offset": 5},
 "encoding": {"x": {"field": "t", "type": "quantitative", "scale": {"domain": [0, 24]}, "axis": {"values": [0,4,8,12,16,20,24], "title": "Fermentation time (h)"}},
  "y": {"field": "v", "type": "quantitative", "scale": {"domain": [0, 60]}, "axis": {"values": [0,10,20,30,40,50,60], "title": "Acetate (mM)"}},
  "color": {"field": "s", "type": "nominal", "legend": null, "scale": {"domain": ["s1","s2","s3","s4","s5","s6"], "range": ["#E2711D","#4E9A2A","#A3202A","#213A5E","#8A8A8A","#111111"]}}},
 "layer": [
  {"data": {"name": "curves"}, "transform": [{"filter": "datum.p == 'A2'"}], "mark": {"type": "line", "interpolate": "monotone"}, "encoding": {"strokeDash": {"field": "s", "type": "nominal", "legend": null, "scale": {"domain": ["s1","s2","s3","s4","s5","s6"], "range": [[15,5,3,5,3,5],[1,0],[10,5],[12,5,3,5],[7,4],[20,8]]}}}},
  {"data": {"name": "points"}, "transform": [{"filter": "datum.p == 'A2'"}], "mark": {"type": "errorbar", "ticks": true, "size": 5, "thickness": 1.4}, "encoding": {"yError": {"field": "e"}}},
  {"data": {"name": "points"}, "transform": [{"filter": "datum.p == 'A2'"}], "mark": {"type": "circle", "size": 60, "opacity": 1}}
 ]},
{"width": 340, "height": 184, "title": {"text": "Maize starch (donor 3)", "offset": 5},
 "encoding": {"x": {"field": "t", "type": "quantitative", "scale": {"domain": [0, 24]}, "axis": {"values": [0,4,8,12,16,20,24], "title": "Fermentation time (h)"}},
  "y": {"field": "v", "type": "quantitative", "scale": {"domain": [0, 60]}, "axis": {"values": [0,10,20,30,40,50,60], "title": "Acetate (mM)"}},
  "color": {"field": "s", "type": "nominal", "legend": null, "scale": {"domain": ["s1","s2","s3","s4","s5","s6"], "range": ["#E2711D","#4E9A2A","#A3202A","#213A5E","#8A8A8A","#111111"]}}},
 "layer": [
  {"data": {"name": "curves"}, "transform": [{"filter": "datum.p == 'A3'"}], "mark": {"type": "line", "interpolate": "monotone"}, "encoding": {"strokeDash": {"field": "s", "type": "nominal", "legend": null, "scale": {"domain": ["s1","s2","s3","s4","s5","s6"], "range": [[15,5,3,5,3,5],[1,0],[10,5],[12,5,3,5],[7,4],[20,8]]}}}},
  {"data": {"name": "points"}, "transform": [{"filter": "datum.p == 'A3'"}], "mark": {"type": "errorbar", "ticks": true, "size": 5, "thickness": 1.4}, "encoding": {"yError": {"field": "e"}}},
  {"data": {"name": "points"}, "transform": [{"filter": "datum.p == 'A3'"}], "mark": {"type": "circle", "size": 60, "opacity": 1}}
 ]},
{"width": 327, "height": 187, "title": {"text": "Maize starch (donor 1)", "offset": 11},
 "encoding": {"x": {"field": "t", "type": "quantitative", "scale": {"domain": [0, 24]}, "axis": {"values": [0,4,8,12,16,20,24], "title": "Fermentation time (h)"}},
  "y": {"field": "v", "type": "quantitative", "scale": {"domain": [0, 30]}, "axis": {"values": [0,5,10,15,20,25,30], "title": "Propionate (mM)"}},
  "color": {"field": "s", "type": "nominal", "legend": null, "scale": {"domain": ["s1","s2","s3","s4","s5","s6"], "range": ["#E2711D","#4E9A2A","#A3202A","#213A5E","#8A8A8A","#111111"]}}},
 "layer": [
  {"data": {"name": "curves"}, "transform": [{"filter": "datum.p == 'P1'"}], "mark": {"type": "line", "interpolate": "monotone"}, "encoding": {"strokeDash": {"field": "s", "type": "nominal", "legend": null, "scale": {"domain": ["s1","s2","s3","s4","s5","s6"], "range": [[15,5,3,5,3,5],[1,0],[10,5],[12,5,3,5],[7,4],[20,8]]}}}},
  {"data": {"name": "points"}, "transform": [{"filter": "datum.p == 'P1'"}], "mark": {"type": "errorbar", "ticks": true, "size": 5, "thickness": 1.4}, "encoding": {"yError": {"field": "e"}}},
  {"data": {"name": "points"}, "transform": [{"filter": "datum.p == 'P1'"}], "mark": {"type": "circle", "size": 60, "opacity": 1}}
 ]},
{"width": 340, "height": 187, "title": {"text": "Maize starch (donor 2)", "offset": 11},
 "encoding": {"x": {"field": "t", "type": "quantitative", "scale": {"domain": [0, 24]}, "axis": {"values": [0,4,8,12,16,20,24], "title": "Fermentation time (h)"}},
  "y": {"field": "v", "type": "quantitative", "scale": {"domain": [0, 30]}, "axis": {"values": [0,5,10,15,20,25,30], "title": "Propionate (mM)"}},
  "color": {"field": "s", "type": "nominal", "legend": null, "scale": {"domain": ["s1","s2","s3","s4","s5","s6"], "range": ["#E2711D","#4E9A2A","#A3202A","#213A5E","#8A8A8A","#111111"]}}},
 "layer": [
  {"data": {"name": "curves"}, "transform": [{"filter": "datum.p == 'P2'"}], "mark": {"type": "line", "interpolate": "monotone"}, "encoding": {"strokeDash": {"field": "s", "type": "nominal", "legend": null, "scale": {"domain": ["s1","s2","s3","s4","s5","s6"], "range": [[15,5,3,5,3,5],[1,0],[10,5],[12,5,3,5],[7,4],[20,8]]}}}},
  {"data": {"name": "points"}, "transform": [{"filter": "datum.p == 'P2'"}], "mark": {"type": "errorbar", "ticks": true, "size": 5, "thickness": 1.4}, "encoding": {"yError": {"field": "e"}}},
  {"data": {"name": "points"}, "transform": [{"filter": "datum.p == 'P2'"}], "mark": {"type": "circle", "size": 60, "opacity": 1}}
 ]},
{"width": 343, "height": 187, "title": {"text": "Maize starch (donor 3)", "offset": 11},
 "encoding": {"x": {"field": "t", "type": "quantitative", "scale": {"domain": [0, 24]}, "axis": {"values": [0,4,8,12,16,20,24], "title": "Fermentation time (h)"}},
  "y": {"field": "v", "type": "quantitative", "scale": {"domain": [0, 30]}, "axis": {"values": [0,5,10,15,20,25,30], "title": "Propionate (mM)"}},
  "color": {"field": "s", "type": "nominal", "legend": null, "scale": {"domain": ["s1","s2","s3","s4","s5","s6"], "range": ["#E2711D","#4E9A2A","#A3202A","#213A5E","#8A8A8A","#111111"]}}},
 "layer": [
  {"data": {"name": "curves"}, "transform": [{"filter": "datum.p == 'P3'"}], "mark": {"type": "line", "interpolate": "monotone"}, "encoding": {"strokeDash": {"field": "s", "type": "nominal", "legend": null, "scale": {"domain": ["s1","s2","s3","s4","s5","s6"], "range": [[15,5,3,5,3,5],[1,0],[10,5],[12,5,3,5],[7,4],[20,8]]}}}},
  {"data": {"name": "points"}, "transform": [{"filter": "datum.p == 'P3'"}], "mark": {"type": "errorbar", "ticks": true, "size": 5, "thickness": 1.4}, "encoding": {"yError": {"field": "e"}}},
  {"data": {"name": "points"}, "transform": [{"filter": "datum.p == 'P3'"}], "mark": {"type": "circle", "size": 60, "opacity": 1}}
 ]},
{"width": 329, "height": 177, "title": {"text": "Maize starch (donor 1)", "offset": 22},
 "encoding": {"x": {"field": "t", "type": "quantitative", "scale": {"domain": [0, 24]}, "axis": {"values": [0,4,8,12,16,20,24], "title": "Fermentation time (h)"}},
  "y": {"field": "v", "type": "quantitative", "scale": {"domain": [0, 40]}, "axis": {"values": [0,10,20,30,40], "title": "Butyrate (mM)"}},
  "color": {"field": "s", "type": "nominal", "legend": null, "scale": {"domain": ["s1","s2","s3","s4","s5","s6"], "range": ["#E2711D","#4E9A2A","#A3202A","#213A5E","#8A8A8A","#111111"]}}},
 "layer": [
  {"data": {"name": "curves"}, "transform": [{"filter": "datum.p == 'B1'"}], "mark": {"type": "line", "interpolate": "monotone"}, "encoding": {"strokeDash": {"field": "s", "type": "nominal", "legend": null, "scale": {"domain": ["s1","s2","s3","s4","s5","s6"], "range": [[15,5,3,5,3,5],[1,0],[10,5],[12,5,3,5],[7,4],[20,8]]}}}},
  {"data": {"name": "points"}, "transform": [{"filter": "datum.p == 'B1'"}], "mark": {"type": "errorbar", "ticks": true, "size": 5, "thickness": 1.4}, "encoding": {"yError": {"field": "e"}}},
  {"data": {"name": "points"}, "transform": [{"filter": "datum.p == 'B1'"}], "mark": {"type": "circle", "size": 60, "opacity": 1}}
 ]},
{"width": 331, "height": 177, "title": {"text": "Maize starch (donor 2)", "offset": 22},
 "encoding": {"x": {"field": "t", "type": "quantitative", "scale": {"domain": [0, 24]}, "axis": {"values": [0,4,8,12,16,20,24], "title": "Fermentation time (h)"}},
  "y": {"field": "v", "type": "quantitative", "scale": {"domain": [0, 40]}, "axis": {"values": [0,10,20,30,40], "title": "Butyrate (mM)"}},
  "color": {"field": "s", "type": "nominal", "legend": null, "scale": {"domain": ["s1","s2","s3","s4","s5","s6"], "range": ["#E2711D","#4E9A2A","#A3202A","#213A5E","#8A8A8A","#111111"]}}},
 "layer": [
  {"data": {"name": "curves"}, "transform": [{"filter": "datum.p == 'B2'"}], "mark": {"type": "line", "interpolate": "monotone"}, "encoding": {"strokeDash": {"field": "s", "type": "nominal", "legend": null, "scale": {"domain": ["s1","s2","s3","s4","s5","s6"], "range": [[15,5,3,5,3,5],[1,0],[10,5],[12,5,3,5],[7,4],[20,8]]}}}},
  {"data": {"name": "points"}, "transform": [{"filter": "datum.p == 'B2'"}], "mark": {"type": "errorbar", "ticks": true, "size": 5, "thickness": 1.4}, "encoding": {"yError": {"field": "e"}}},
  {"data": {"name": "points"}, "transform": [{"filter": "datum.p == 'B2'"}], "mark": {"type": "circle", "size": 60, "opacity": 1}}
 ]},
{"width": 336, "height": 177, "title": {"text": "Maize starch (donor 3)", "offset": 22},
 "encoding": {"x": {"field": "t", "type": "quantitative", "scale": {"domain": [0, 24]}, "axis": {"values": [0,4,8,12,16,20,24], "title": "Fermentation time (h)"}},
  "y": {"field": "v", "type": "quantitative", "scale": {"domain": [0, 40]}, "axis": {"values": [0,10,20,30,40], "title": "Butyrate (mM)"}},
  "color": {"field": "s", "type": "nominal", "legend": null, "scale": {"domain": ["s1","s2","s3","s4","s5","s6"], "range": ["#E2711D","#4E9A2A","#A3202A","#213A5E","#8A8A8A","#111111"]}}},
 "layer": [
  {"data": {"name": "curves"}, "transform": [{"filter": "datum.p == 'B3'"}], "mark": {"type": "line", "interpolate": "monotone"}, "encoding": {"strokeDash": {"field": "s", "type": "nominal", "legend": null, "scale": {"domain": ["s1","s2","s3","s4","s5","s6"], "range": [[15,5,3,5,3,5],[1,0],[10,5],[12,5,3,5],[7,4],[20,8]]}}}},
  {"data": {"name": "points"}, "transform": [{"filter": "datum.p == 'B3'"}], "mark": {"type": "errorbar", "ticks": true, "size": 5, "thickness": 1.4}, "encoding": {"yError": {"field": "e"}}},
  {"data": {"name": "points"}, "transform": [{"filter": "datum.p == 'B3'"}], "mark": {"type": "circle", "size": 60, "opacity": 1}}
 ]}
]
}
